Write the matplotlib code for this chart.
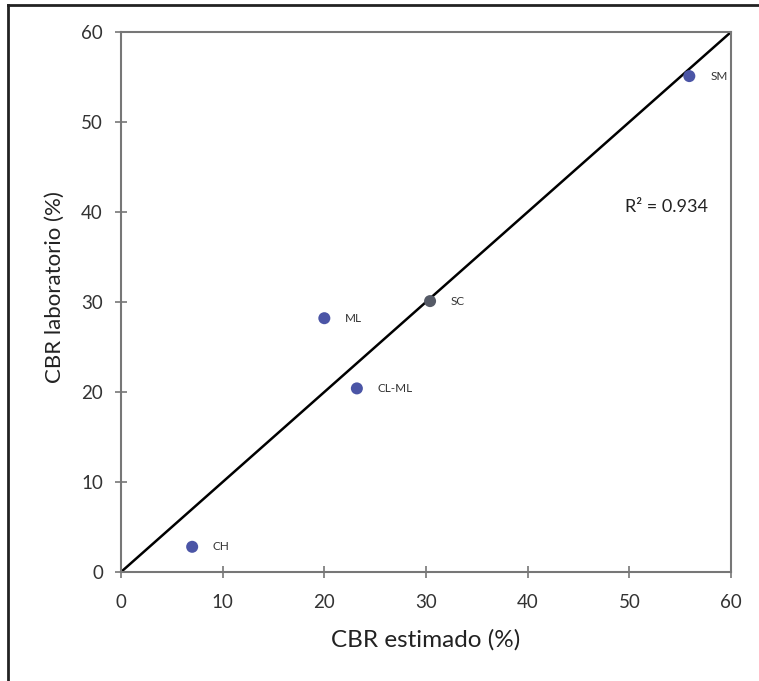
import matplotlib
matplotlib.use("Agg")
import matplotlib.pyplot as plt
from matplotlib.lines import Line2D

plt.rcParams['font.family'] = ['Lato', 'DejaVu Sans']

# Soil types: estimated vs. laboratory CBR (%)
soil_types = ["CH", "ML", "CL-ML", "SC", "SM"]
cbr_estimated = [7.0, 20.0, 23.2, 30.4, 55.9]
cbr_laboratory = [2.8, 28.2, 20.4, 30.1, 55.1]
point_colors = ["#4b55a6", "#4b55a6", "#4b55a6", "#555a66", "#4b55a6"]
ticks = [0, 10, 20, 30, 40, 50, 60]
r_squared = 0.934

fig = plt.figure(figsize=(7.59, 6.81), dpi=100)
W, H = 759, 681
ax = fig.add_axes([121 / W, 1 - 572 / H, 610 / W, 540 / H])

# 1:1 reference line
ax.plot([0, 60], [0, 60], color="black", lw=1.8, zorder=2)

ax.scatter(cbr_estimated, cbr_laboratory, s=75, c=point_colors,
           edgecolors="none", zorder=3)
for name, x, y in zip(soil_types, cbr_estimated, cbr_laboratory):
    ax.annotate(name, (x, y), xytext=(15, 0), textcoords="offset points",
                ha="left", va="center", fontsize=8.5, color="#333333")

ax.text(49.6, 40.5, f"R² = {r_squared}", fontsize=13, color="#222222",
        ha="left", va="center")

ax.set_xlim(0, 60)
ax.set_ylim(0, 60)
ax.set_xticks(ticks)
ax.set_yticks(ticks)
ax.tick_params(direction="inout", length=8, width=1.2, color="#777777",
               labelsize=13.5, labelcolor="#333333")
ax.tick_params(axis="x", pad=12)
ax.tick_params(axis="y", pad=9)
for sp in ax.spines.values():
    sp.set_color("#777777")
    sp.set_linewidth(1.5)

ax.set_xlabel("CBR estimado (%)", fontsize=17.5, color="#222222", labelpad=13)
ax.set_ylabel("CBR laboratorio (%)", fontsize=16, color="#222222")
ax.yaxis.set_label_coords(-56 / 610, 0.527)

# Frame lines along the top and left of the figure
fig.add_artist(Line2D([8 / W, 1.0], [1 - 5 / H, 1 - 5 / H],
                      transform=fig.transFigure, color="#222222", lw=2))
fig.add_artist(Line2D([8 / W, 8 / W], [0.0, 1 - 5 / H],
                      transform=fig.transFigure, color="#222222", lw=2))

fig.savefig("out.png", dpi=100)
